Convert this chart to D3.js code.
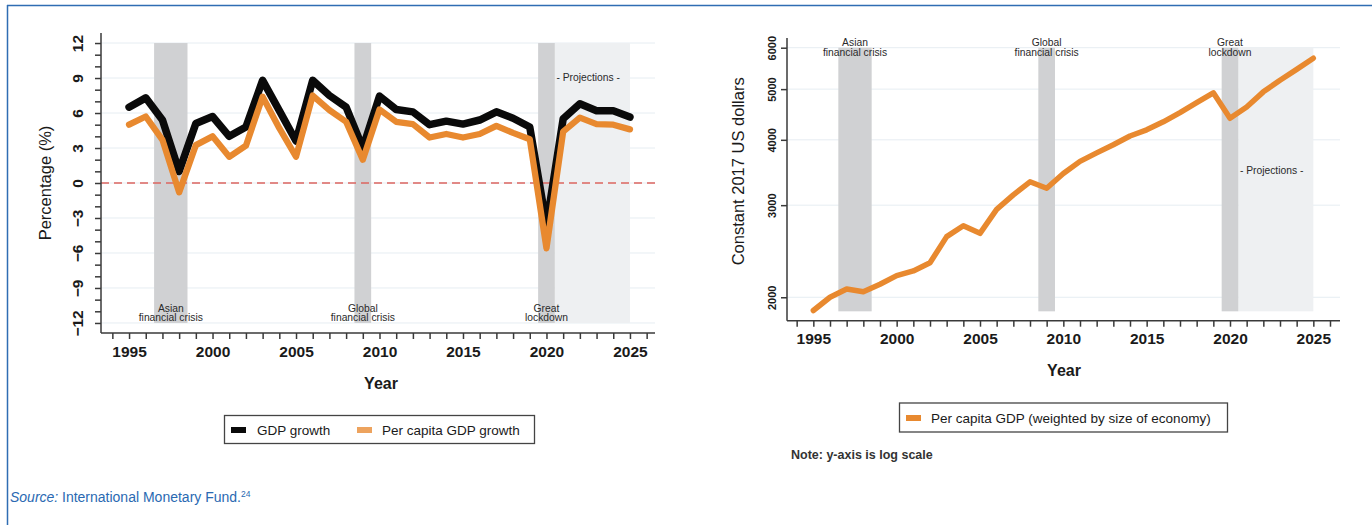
<!DOCTYPE html>
<html>
<head>
<meta charset="utf-8">
<script src="https://cdn.jsdelivr.net/npm/d3@7/dist/d3.min.js"></script>
<style>
  html, body { margin: 0; padding: 0; background: #fff; }
  svg { display: block; font-family: "Liberation Sans", Arial, Helvetica, sans-serif; }
</style>
</head>
<body>
<svg id="fig" width="1372" height="525"></svg>
<script>
// ---- data ----
const years = d3.range(1995, 2026);
const gdpGrowth = [6.5, 7.3, 5.4, 1.0, 5.1, 5.7, 4.0, 4.8, 8.8, 6.2, 3.6, 8.8, 7.5, 6.5, 3.0, 7.45,
                   6.3, 6.1, 5.0, 5.3, 5.05, 5.4, 6.1, 5.55, 4.8, -3.6, 5.5, 6.8, 6.2, 6.2, 5.65];
const perCapitaGrowth = [5.0, 5.7, 3.7, -0.8, 3.25, 4.0, 2.25, 3.2, 7.4, 4.7, 2.25, 7.5, 6.25, 5.25, 2.0, 6.3,
                         5.25, 5.05, 3.9, 4.2, 3.9, 4.2, 4.9, 4.3, 3.75, -5.6, 4.4, 5.6, 5.05, 5.0, 4.6];
const perCapitaGdp = [1887, 2000, 2074, 2050, 2118, 2200, 2246, 2328, 2612, 2740, 2650, 2944, 3138, 3325, 3232, 3448,
                      3638, 3776, 3914, 4068, 4180, 4330, 4510, 4710, 4920, 4398, 4620, 4940, 5200, 5455, 5730];

const crises = [
  { lines: ["Asian", "financial crisis"], from: 1996.5, to: 1998.5, fill: "#d0d1d3" },
  { lines: ["Global", "financial crisis"], from: 2008.5, to: 2009.5, fill: "#d0d1d3" },
  { lines: ["Great", "lockdown"], from: 2019.5, to: 2020.5, fill: "#d0d1d3" }
];
const projection = { from: 2020.5, to: 2025, label: "- Projections -", fill: "#eef0f2" };

const leftTicksY = [-12, -9, -6, -3, 0, 3, 6, 9, 12];
const rightTicksY = [2000, 3000, 4000, 5000, 6000];
const ticksX = [1995, 2000, 2005, 2010, 2015, 2020, 2025];

// ---- styles ----
const axisColor = "#3a3a3a";
const gridColor = "#e6edf2";
const textColor = "#1a1a1a";
const black = "#0a0a0a";
const orange = "#e8892f";
const orangeLegend = "#eda35e";

const svg = d3.select("#fig");
svg.append("rect").attr("width", 1372).attr("height", 525).attr("fill", "#fff");

// outer frame (top and left edges)
svg.append("line").attr("x1", 7).attr("x2", 1372).attr("y1", 5.5).attr("y2", 5.5)
  .attr("stroke", "#2f6db3").attr("stroke-width", 1.5);
svg.append("line").attr("x1", 7.5).attr("x2", 7.5).attr("y1", 5).attr("y2", 525)
  .attr("stroke", "#2f6db3").attr("stroke-width", 1.5);

function drawXAxis(g, x, yPos) {
  const ax = d3.axisBottom(x).tickValues(d3.range(1994, 2027)).tickSize(6)
    .tickFormat(d => ticksX.includes(d) ? d : "");
  const a = g.append("g").attr("transform", `translate(0,${yPos})`).call(ax);
  a.select(".domain").attr("stroke", axisColor).attr("stroke-width", 1.5)
    .attr("d", `M${x.range()[0]},0H${x.range()[1]}`);
  a.selectAll(".tick line").attr("stroke", axisColor).attr("stroke-width", 1.5);
  a.selectAll(".tick text").attr("fill", textColor).attr("font-size", 15.5)
    .attr("font-weight", "bold").attr("dy", "0.95em").attr("font-family", "Liberation Sans, Arial, sans-serif");
  return a;
}

function drawBands(g, x, yTop, yBottom) {
  g.append("rect").attr("x", x(projection.from)).attr("width", x(projection.to) - x(projection.from))
    .attr("y", yTop).attr("height", yBottom - yTop).attr("fill", projection.fill);
  crises.forEach(c => {
    g.append("rect").attr("x", x(c.from)).attr("width", x(c.to) - x(c.from))
      .attr("y", yTop).attr("height", yBottom - yTop).attr("fill", c.fill);
  });
}

function crisisLabels(g, x, baseY) {
  crises.forEach(c => {
    const t = g.append("text").attr("text-anchor", "middle").attr("font-size", 10.3)
      .attr("fill", "#2a2a2a");
    c.lines.forEach((ln, i) => {
      t.append("tspan").attr("x", x((c.from + c.to) / 2)).attr("y", baseY + i * 9.5).text(ln);
    });
  });
}

// =================== LEFT CHART: growth rates ===================
const gL = svg.append("g");
const xL = d3.scaleLinear().domain([1993.32, 2026.5]).range([101, 655]);
const yL = d3.scaleLinear().domain([-12.86, 12.86]).range([333, 33]);

gL.selectAll(".gridL").data(leftTicksY).join("line")
  .attr("x1", xL.range()[0]).attr("x2", xL.range()[1])
  .attr("y1", d => yL(d)).attr("y2", d => yL(d))
  .attr("stroke", gridColor).attr("stroke-width", 1);

drawBands(gL, xL, yL(12), yL(-12));
crisisLabels(gL, xL, 311.5);
gL.append("text").attr("x", xL(2022.5)).attr("y", 81).attr("text-anchor", "middle")
  .attr("font-size", 10.3).attr("fill", "#2a2a2a").text(projection.label);

// zero reference line
gL.append("line").attr("x1", xL.range()[0]).attr("x2", xL.range()[1])
  .attr("y1", yL(0)).attr("y2", yL(0))
  .attr("stroke", "#dc6660").attr("stroke-width", 1.6).attr("stroke-dasharray", "8,5");

const lineL = d3.line().x((d, i) => xL(years[i])).y(d => yL(d));
gL.append("path").datum(gdpGrowth).attr("d", lineL).attr("fill", "none")
  .attr("stroke", black).attr("stroke-width", 7.5).attr("stroke-linejoin", "round").attr("stroke-linecap", "round");
gL.append("path").datum(perCapitaGrowth).attr("d", lineL).attr("fill", "none")
  .attr("stroke", orange).attr("stroke-width", 6.3).attr("stroke-linejoin", "round").attr("stroke-linecap", "round");

const ayL = gL.append("g").attr("transform", `translate(${xL.range()[0]},0)`)
  .call(d3.axisLeft(yL).tickValues(d3.range(-12, 13)).tickSize(6)
    .tickFormat(d => leftTicksY.includes(d) ? (d < 0 ? "\u2212" + (-d) : d) : ""));
ayL.select(".domain").attr("stroke", axisColor).attr("stroke-width", 1.5)
  .attr("d", `M0,${yL.range()[1]}V${yL.range()[0]}`);
ayL.selectAll(".tick line").attr("stroke", axisColor).attr("stroke-width", 1.5);
ayL.selectAll(".tick text").attr("fill", textColor).attr("font-size", 15.5).attr("font-weight", "bold")
  .attr("font-family", "Liberation Sans, Arial, sans-serif")
  .attr("transform", "rotate(-90)").attr("text-anchor", "middle")
  .attr("x", 0).attr("y", -18).attr("dy", "0");
gL.append("text").attr("transform", `translate(51,${yL(0)}) rotate(-90)`).attr("text-anchor", "middle")
  .attr("font-size", 16.5).attr("fill", textColor).text("Percentage (%)");

drawXAxis(gL, xL, 333);
gL.append("text").attr("x", 381).attr("y", 388.5).attr("text-anchor", "middle")
  .attr("font-size", 16).attr("font-weight", "bold").attr("fill", textColor).text("Year");

// legend
const legL = gL.append("g");
legL.append("rect").attr("x", 224.5).attr("y", 415.5).attr("width", 310).attr("height", 28)
  .attr("fill", "#fff").attr("stroke", "#444").attr("stroke-width", 1.3);
legL.append("rect").attr("x", 231).attr("y", 427).attr("width", 15).attr("height", 6).attr("fill", black);
legL.append("text").attr("x", 257).attr("y", 434.5).attr("font-size", 13.5).attr("fill", textColor).text("GDP growth");
legL.append("rect").attr("x", 357).attr("y", 427).attr("width", 15).attr("height", 6).attr("fill", orangeLegend);
legL.append("text").attr("x", 382).attr("y", 434.5).attr("font-size", 13.5).attr("fill", textColor).text("Per capita GDP growth");

// =================== RIGHT CHART: per capita level (log) ===================
const gR = svg.append("g");
const xR = d3.scaleLinear().domain([1993.42, 2026.6]).range([787, 1340]);
const yR = d3.scaleLog().domain([1804, 6262]).range([320.7, 38]);

gR.selectAll(".gridR").data(rightTicksY).join("line")
  .attr("x1", xR.range()[0]).attr("x2", xR.range()[1])
  .attr("y1", d => yR(d)).attr("y2", d => yR(d))
  .attr("stroke", gridColor).attr("stroke-width", 1);

drawBands(gR, xR, yR(6000), yR(1880));
crisisLabels(gR, xR, 46);
gR.append("text").attr("x", xR(2022.5)).attr("y", 174).attr("text-anchor", "middle")
  .attr("font-size", 10.3).attr("fill", "#2a2a2a").text(projection.label);

const lineR = d3.line().x((d, i) => xR(years[i])).y(d => yR(d));
gR.append("path").datum(perCapitaGdp).attr("d", lineR).attr("fill", "none")
  .attr("stroke", orange).attr("stroke-width", 5.5).attr("stroke-linejoin", "round").attr("stroke-linecap", "round");

const ayR = gR.append("g").attr("transform", `translate(${xR.range()[0]},0)`)
  .call(d3.axisLeft(yR).tickValues(rightTicksY).tickSize(6).tickFormat(d3.format("d")));
ayR.select(".domain").attr("stroke", axisColor).attr("stroke-width", 1.5)
  .attr("d", `M0,${yR.range()[1]}V${yR.range()[0]}`);
ayR.selectAll(".tick line").attr("stroke", axisColor).attr("stroke-width", 1.5);
ayR.selectAll(".tick text").attr("fill", textColor).attr("font-size", 11).attr("font-weight", "bold")
  .attr("font-family", "Liberation Sans, Arial, sans-serif")
  .attr("transform", "rotate(-90)").attr("text-anchor", "middle")
  .attr("x", 0).attr("y", -11).attr("dy", "0");
gR.append("text").attr("transform", `translate(744,${(yR.range()[0] + yR.range()[1]) / 2 - 8}) rotate(-90)`)
  .attr("text-anchor", "middle").attr("font-size", 16.5).attr("fill", textColor).text("Constant 2017 US dollars");

drawXAxis(gR, xR, 320.7);
gR.append("text").attr("x", 1064).attr("y", 376).attr("text-anchor", "middle")
  .attr("font-size", 16).attr("font-weight", "bold").attr("fill", textColor).text("Year");

const legR = gR.append("g");
legR.append("rect").attr("x", 899.5).attr("y", 403).attr("width", 328).attr("height", 29)
  .attr("fill", "#fff").attr("stroke", "#444").attr("stroke-width", 1.3);
legR.append("rect").attr("x", 906).attr("y", 415).attr("width", 15).attr("height", 6).attr("fill", orange);
legR.append("text").attr("x", 931).attr("y", 422.5).attr("font-size", 13.5).attr("fill", textColor)
  .text("Per capita GDP (weighted by size of economy)");
gR.append("text").attr("x", 791).attr("y", 459).attr("font-size", 12.5).attr("font-weight", "bold")
  .attr("fill", "#333").text("Note: y-axis is log scale");

// source line
const src = svg.append("text").attr("x", 10).attr("y", 502).attr("font-size", 14).attr("fill", "#2a69b2");
src.append("tspan").attr("font-style", "italic").text("Source:");
src.append("tspan").attr("x", 62).text("International Monetary Fund.");
src.append("tspan").attr("font-size", 8.5).attr("dy", -5).text("24");
</script>
</body>
</html>
